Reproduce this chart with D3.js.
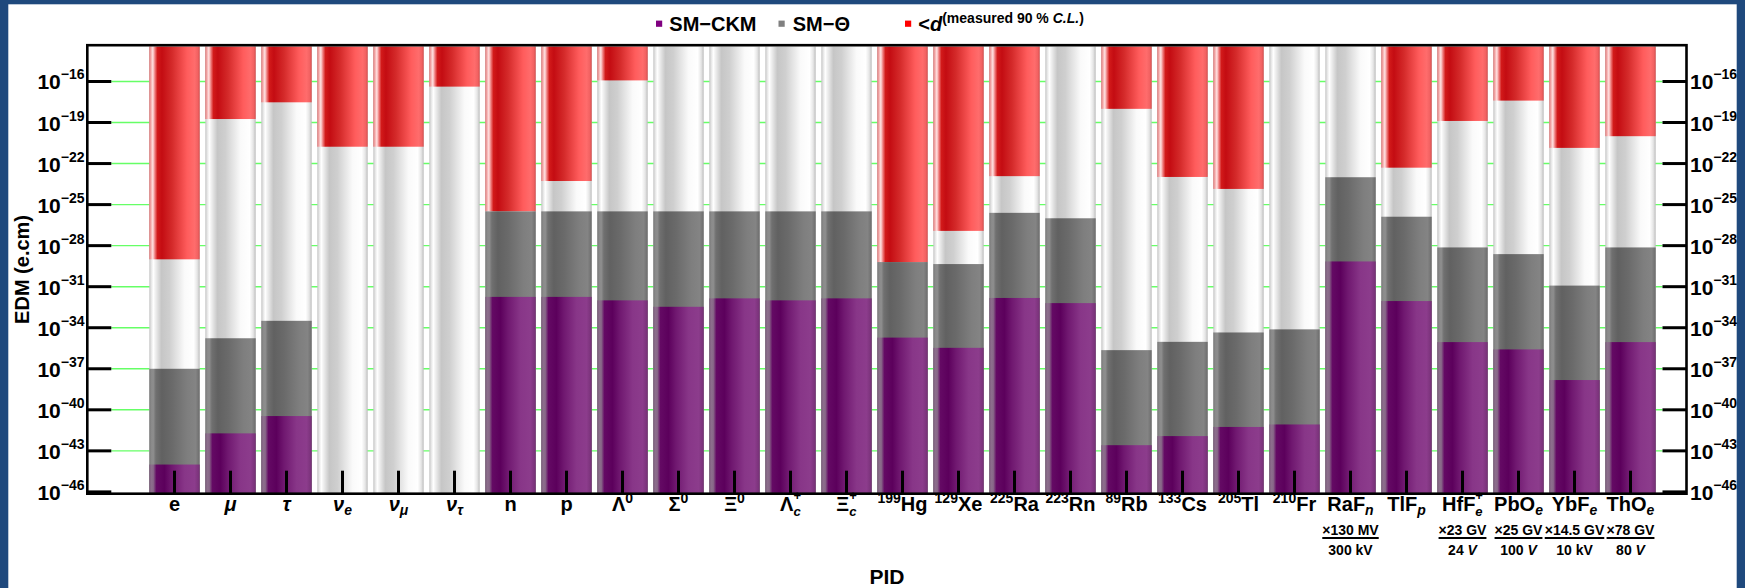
<!DOCTYPE html>
<html><head><meta charset="utf-8">
<script src="https://cdn.jsdelivr.net/npm/d3@7"></script>
<style>
html,body{margin:0;padding:0;background:#fff;overflow:hidden;}
svg{display:block;}
text{font-family:"Liberation Sans",Arial,sans-serif;font-weight:bold;fill:#000;white-space:pre;}
</style></head><body>
<svg id="c" width="1745" height="588"></svg>
<script>
// ---------------- data ----------------
const categories = ["e","*μ*","*τ*","*ν*_{*e*}","*ν*_{*μ*}","*ν*_{*τ*}","n","p",
  "Λ^{0}","Σ^{0}","Ξ^{0}","Λ_{*c*}^{+}","Ξ_{*c*}^{+}",
  "^{199}Hg","^{129}Xe","^{225}Ra","^{223}Rn","^{89}Rb","^{133}Cs","^{205}Tl","^{210}Fr",
  "RaF_{*n*}","TlF_{*p*}","HfF_{*e*}^{+}","PbO_{*e*}","YbF_{*e*}","ThO_{*e*}"];
// SM-CKM prediction (e.cm)
const smCKM = [1e-44,1.9e-42,3.5e-41,null,null,null,1.8e-32,1.8e-32,
  1e-32,3.4e-33,1.4e-32,1e-32,1.4e-32,
  1.9e-35,3.4e-36,1.5e-32,6.3e-33,2.6e-43,1.2e-42,5.6e-42,8.5e-42,
  7e-30,8.9e-33,8.9e-36,2.6e-36,1.5e-38,8.9e-36];
// SM-Theta prediction (e.cm)
const smTheta = [1e-37,1.7e-35,3.2e-34,null,null,null,3.2e-26,3.2e-26,
  3.2e-26,3.2e-26,3.2e-26,3.2e-26,3.2e-26,
  6.3e-30,4.5e-30,2.5e-26,1e-26,2.3e-36,9.3e-36,4.5e-35,7.6e-35,
  1e-23,1.3e-26,7.4e-29,2.4e-29,1.2e-31,7.4e-29];
// measured upper limit, 90% C.L. (e.cm)
const measuredLimit = [1e-29,1.8e-19,3e-18,1.7e-21,1.7e-21,4.2e-17,3.2e-26,5.3e-24,
  1.2e-16,null,null,null,null,
  6.3e-30,1.2e-27,1.2e-23,null,1e-18,1.05e-23,1.4e-24,null,
  null,5e-23,1.3e-19,4e-18,1.4e-21,1e-20];
const yTickExponents = [-16,-19,-22,-25,-28,-31,-34,-37,-40,-43,-46];
const fractionCategories = ["RaF_{*n*}","HfF_{*e*}^{+}","PbO_{*e*}","YbF_{*e*}","ThO_{*e*}"];
const fractionNumerators = ["×130 MV","×23 GV","×25 GV","×14.5 GV","×78 GV"];
const fractionDenominators = ["300 kV","24 *V*","100 *V*","10 kV","80 *V*"];
const legendLabels = ["SM−CKM","SM−Θ","<*d*^{(measured 90 % *C.L.*)}"];
const legendColors = ["#800080","#808080","#ff0000"];
const yMin = 1e-46, yMax = 3.6e-14;

// ---------------- layout ----------------
const W = 1745, H = 588;
const axL = 87.3, axR = 1686.5, axT = 45.2, axB = 493.7;
const svg = d3.select("#c");

svg.append("rect").attr("width",W).attr("height",H).attr("fill","#1f497d");
svg.append("rect").attr("x",8.3).attr("y",4.3).attr("width",1736.7-8.3).attr("height",H).attr("fill","#fff");

const x = d3.scaleBand().domain(categories).range([146.5,1658.5]).paddingInner(0.1).paddingOuter(0.05);
const y = d3.scaleLog().domain([yMin,yMax]).range([491.9,46.5]);

// gradients
const defs = svg.append("defs");
const grads = {
  red:[[0,"#de7070"],[0.03,"#f2a8a8"],[0.07,"#ffe2e2"],[0.11,"#f08080"],[0.16,"#d21a1a"],[0.25,"#c40c12"],[0.45,"#d42a2a"],[0.75,"#ff5c5c"],[0.9,"#ff6c6c"],[0.96,"#f26262"],[1,"#d85050"]],
  white:[[0,"#c4c4c4"],[0.04,"#e6e6e6"],[0.08,"#ffffff"],[0.12,"#f0f0f0"],[0.24,"#c6c6c6"],[0.4,"#cfcfcf"],[0.7,"#fafafa"],[0.88,"#ffffff"],[0.95,"#e6e6e6"],[1,"#bdbdbd"]],
  gray:[[0,"#787878"],[0.04,"#8a8a8a"],[0.08,"#8e8e8e"],[0.13,"#707070"],[0.25,"#616161"],[0.45,"#6a6a6a"],[0.75,"#7e7e7e"],[0.92,"#848484"],[1,"#6c6c6c"]],
  purple:[[0,"#7a5a7a"],[0.04,"#8c6e8c"],[0.08,"#886888"],[0.14,"#640a64"],[0.3,"#5c005c"],[0.45,"#701870"],[0.7,"#883688"],[0.9,"#8c3c8c"],[1,"#763076"]]
};
Object.entries(grads).forEach(([k,stops])=>{
  const g = defs.append("linearGradient").attr("id","g-"+k).attr("x1",0).attr("x2",1).attr("y1",0).attr("y2",0);
  stops.forEach(s=>g.append("stop").attr("offset",s[0]).attr("stop-color",s[1]));
});

// rich text helper (mini markup: ^{sup} _{sub} *italic*), one <text> per label
function parseMarkup(str){
  const out=[]; let i=0;
  while(i<str.length){
    const c=str[i];
    if((c==='^'||c==='_')&&str[i+1]==='{'){
      let j=i+2, depth=1;
      while(j<str.length){ if(str[j]==='{')depth++; else if(str[j]==='}'){depth--; if(!depth)break;} j++; }
      out.push({role:c==='^'?'sup':'sub',content:str.slice(i+2,j)});
      i=j+1;
    } else {
      let j=i;
      while(j<str.length && !((str[j]==='^'||str[j]==='_')&&str[j+1]==='{')) j++;
      out.push({role:'base',content:str.slice(i,j)});
      i=j;
    }
  }
  return out;
}
function richText(parent, str, px, py, o){
  const t = parent.append("text");
  const segs = parseMarkup(str);
  let cx=0, pending=null;
  segs.forEach((s,k)=>{
    const nx = segs[k+1], pv = segs[k-1];
    const stacked = (s.role==='sub' && nx && nx.role==='sup') || (s.role==='sup' && pv && pv.role==='sub');
    const size = s.role==='base'? o.size : (stacked? o.small-1 : o.small);
    let dy = s.role==='sup'? o.supDy : s.role==='sub'? o.subDy : 0;
    if(stacked) dy = s.role==='sup'? o.supDy-3 : o.subDy+1;
    const ts = t.append("tspan").attr("x",cx).attr("y",dy).style("font-size",size+"px");
    s.content.split("*").forEach((part,pi)=>{ if(part) ts.append("tspan").text(part).style("font-style",pi%2?"italic":"normal"); });
    const w = ts.node().getComputedTextLength();
    if(s.role==='sub' && nx && nx.role==='sup'){ pending=w; }
    else { cx += (pending!==null? Math.max(w,pending):w); pending=null; }
  });
  const shift = o.anchor==='middle'? cx/2 : o.anchor==='end'? cx : 0;
  t.attr("transform",`translate(${px-shift},${py})`);
  return cx;
}

// gridlines
const grid = svg.append("g");
yTickExponents.filter(e=>e>-46).forEach(e=>{
  grid.append("line").attr("x1",axL+24).attr("x2",axR-24)
    .attr("y1",y(Math.pow(10,e))).attr("y2",y(Math.pow(10,e)))
    .attr("stroke","#66ff66").attr("stroke-width",1.4);
});

// bars
const bars = svg.append("g");
const yb = y(yMin)+1;
categories.forEach((c,i)=>{
  const bx = x(c), bw = x.bandwidth();
  bars.append("rect").attr("x",bx).attr("width",bw).attr("y",y(yMax)).attr("height",yb-y(yMax)).attr("fill","url(#g-white)");
  if(measuredLimit[i]!==null) bars.append("rect").attr("x",bx).attr("width",bw).attr("y",y(yMax)).attr("height",y(measuredLimit[i])-y(yMax)).attr("fill","url(#g-red)");
  if(smTheta[i]!==null) bars.append("rect").attr("x",bx).attr("width",bw).attr("y",y(smTheta[i])).attr("height",yb-y(smTheta[i])).attr("fill","url(#g-gray)");
  if(smCKM[i]!==null) bars.append("rect").attr("x",bx).attr("width",bw).attr("y",y(smCKM[i])).attr("height",yb-y(smCKM[i])).attr("fill","url(#g-purple)");
});

// axes ticks
const ax = svg.append("g").attr("stroke","#000").attr("stroke-width",3);
categories.forEach(c=>{
  const cx = x(c)+x.bandwidth()/2;
  ax.append("line").attr("x1",cx).attr("x2",cx).attr("y1",axB).attr("y2",axB-23);
});
yTickExponents.forEach(e=>{
  const yy = y(Math.pow(10,e));
  ax.append("line").attr("x1",axL).attr("x2",axL+24).attr("y1",yy).attr("y2",yy);
  ax.append("line").attr("x1",axR).attr("x2",axR-24).attr("y1",yy).attr("y2",yy);
});
svg.append("rect").attr("x",axL).attr("y",axT).attr("width",axR-axL).attr("height",axB-axT)
  .attr("fill","none").attr("stroke","#000").attr("stroke-width",2.6);

// y tick labels
const labels = svg.append("g");
yTickExponents.forEach(e=>{
  const yy = y(Math.pow(10,e))+8;
  const s = "10^{−"+Math.abs(e)+"}";
  richText(labels,s,84.5,yy,{size:21,small:14,supDy:-10,subDy:4,anchor:'end'});
  richText(labels,s,1690,yy,{size:21,small:14,supDy:-10,subDy:4,anchor:'start'});
});

// x tick labels
categories.forEach(c=>{
  richText(labels,c,x(c)+x.bandwidth()/2,511,{size:20,small:14,supDy:-8,subDy:4,anchor:'middle'});
});
// fraction annotations
fractionCategories.forEach((c,k)=>{
  const cx = x(c)+x.bandwidth()/2;
  const wn = richText(labels,fractionNumerators[k],cx,534.5,{size:14,small:10,supDy:-5,subDy:3,anchor:'middle'});
  const wd = richText(labels,fractionDenominators[k],cx,555,{size:14,small:10,supDy:-5,subDy:3,anchor:'middle'});
  const w = Math.max(wn,wd);
  labels.append("line").attr("x1",cx-w/2).attr("x2",cx+w/2).attr("y1",538).attr("y2",538).attr("stroke","#000").attr("stroke-width",2);
});

// axis titles
svg.append("text").attr("transform",`translate(28.5,${(axT+axB)/2}) rotate(-90)`).attr("text-anchor","middle").style("font-size","20px").text("EDM (e.cm)");
svg.append("text").attr("x",(axL+axR)/2).attr("y",584).attr("text-anchor","middle").style("font-size","21px").text("PID");

// legend
const legX = [656,778.5,905];
const legTextX = [669.3,792.7,918.3];
const leg = svg.append("g");
legendLabels.forEach((l,k)=>{
  leg.append("rect").attr("x",legX[k]).attr("y",20.6).attr("width",6.2).attr("height",6.2).attr("fill",legendColors[k]);
  richText(leg,l,legTextX[k],30.7,{size:20,small:14,supDy:-8,subDy:4,anchor:'start'});
});
</script>
</body></html>
